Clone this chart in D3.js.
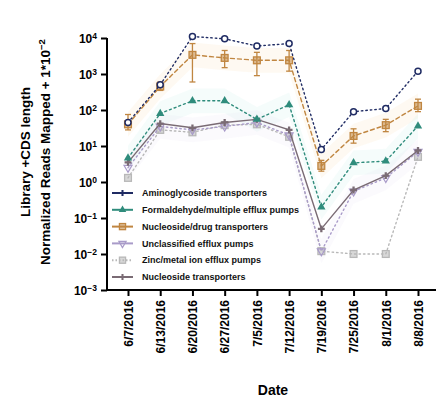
<!DOCTYPE html>
<html><head><meta charset="utf-8">
<script src="https://cdn.jsdelivr.net/npm/d3@7"></script>
<style>body{margin:0;background:#fff}svg{display:block}text{font-family:"Liberation Sans",Arial,sans-serif}</style>
</head><body><svg id="c" width="438" height="404"></svg>
<script>
const dates = ["6/7/2016","6/13/2016","6/20/2016","6/27/2016","7/5/2016","7/12/2016","7/19/2016","7/25/2016","8/1/2016","8/8/2016"];
const seriesNames = ["Aminoglycoside transporters","Formaldehyde/multiple efflux pumps","Nucleoside/drug transporters","Unclassified efflux pumps","Zinc/metal ion efflux pumps","Nucleoside transporters"];
const sAmino = [45, 500, 11000, 9500, 6000, 7000, 8, 90, 110, 1200];
const sForm  = [4.6, 80, 180, 180, 55, 140, 0.2, 3.4, 3.8, 36];
const sNucl  = [40, 450, 3400, 2800, 2400, 2400, 2.8, 19, 38, 130];
const sUncl  = [2.5, 35, 28, 35, 45, 20, 0.012, 0.55, 1.3, 7];
const sZinc  = [1.3, 28, 24, 38, 40, 18, 0.012, 0.01, 0.01, 5];
const sNuc2  = [3.5, 42, 32, 45, 55, 28, 0.05, 0.6, 1.5, 7.5];
const nuclLo = [28, 350, 600, 1500, 900, 1200, 2, 12, 25, 90];
const nuclHi = [75, 600, 7000, 4500, 4000, 4500, 4, 30, 55, 200];
const yTicks = [1e4,1e3,1e2,1e1,1e0,1e-1,1e-2,1e-3];

const colors = ["#1f2b63","#2f8c7c","#c08641","#a99bc9","#b8b8b8","#7a6b74"];
const dashes = ["1.5,3","2,3","4,3","1.5,3","1.5,3","none"];
const shapes = ["circle","triangle","square","triangleDown","square","cross"];
const allSeries = [sAmino, sForm, sNucl, sUncl, sZinc, sNuc2];

const svg = d3.select("#c");
const x = d3.scalePoint().domain(dates).range([128, 418]);
const y = d3.scaleLog().domain([1e-3, 1e4]).range([290, 38]);

// faint bands
const band = (arr, f) => d3.area().x((d,i)=>x(dates[i])).y0((d)=>y(d/f)).y1(d=>y(d*f)).curve(d3.curveLinear)(arr);
svg.append("path").attr("d", band(sNucl, 2.2)).attr("fill","#f6d9a8").attr("opacity",0.15);
svg.append("path").attr("d", band(sForm, 2.2)).attr("fill","#bfe8e6").attr("opacity",0.15);
svg.append("path").attr("d", band(sUncl, 2.2)).attr("fill","#e3dcf3").attr("opacity",0.15);

// axes
const yAxis = d3.axisLeft(y).tickValues(yTicks).tickSize(6).tickFormat("");
const gy = svg.append("g").attr("transform","translate(107,0)").call(yAxis);
gy.select(".domain").attr("stroke","#000").attr("stroke-width",2).attr("d","M0,38V291");
gy.selectAll(".tick line").attr("stroke","#000").attr("stroke-width",2);
gy.selectAll(".tick").each(function(d){
  const e = Math.round(Math.log10(d));
  const t = d3.select(this).append("text").attr("x",-10).attr("dy","0.38em").attr("text-anchor","end")
    .attr("fill","#000").attr("font-size",12).attr("font-weight","bold");
  t.append("tspan").text("10");
  t.append("tspan").attr("dy","-0.45em").attr("font-size",8.5).text(String(e).replace("-","\u2212"));
});
const xAxis = d3.axisBottom(x).tickSize(6).tickFormat("");
const gx = svg.append("g").attr("transform","translate(0,290)").call(xAxis);
gx.select(".domain").attr("stroke","#000").attr("stroke-width",2).attr("d","M106,0H436");
gx.selectAll(".tick line").attr("stroke","#000").attr("stroke-width",2);
gx.selectAll(".tick").append("text").attr("transform","rotate(-90)").attr("x",-10).attr("y",0).attr("dy","0.36em")
  .attr("text-anchor","end").attr("fill","#000").attr("font-size",12).attr("font-weight","bold").text(d=>d);

// titles
svg.append("text").attr("x",273).attr("y",395).attr("text-anchor","middle").attr("font-size",14).attr("font-weight","bold").text("Date");
svg.append("text").attr("transform","translate(30,152) rotate(-90)").attr("text-anchor","middle").attr("font-size",13.5).attr("font-weight","bold")
  .text("Library +CDS length");
const yt2 = svg.append("text").attr("transform","translate(50,152) rotate(-90)").attr("text-anchor","middle").attr("font-size",13.5).attr("font-weight","bold");
yt2.append("tspan").text("Normalized Reads Mapped + 1*10");
yt2.append("tspan").attr("dy","-0.5em").attr("font-size",9.5).text("\u22122");

function marker(g, shape, cx, cy, col, s){
  s = s || 1;
  if(shape==="circle") g.append("circle").attr("cx",cx).attr("cy",cy).attr("r",3*s).attr("fill","#fff").attr("stroke",col).attr("stroke-width",1.5);
  else if(shape==="square") g.append("rect").attr("x",cx-3.4*s).attr("y",cy-3.4*s).attr("width",6.8*s).attr("height",6.8*s).attr("fill",col).attr("fill-opacity",0.55).attr("stroke",col).attr("stroke-width",1.3);
  else if(shape==="triangle") g.append("path").attr("d",d3.symbol(d3.symbolTriangle, 30*s*s)()).attr("transform",`translate(${cx},${cy})`).attr("fill",col);
  else if(shape==="triangleDown") g.append("path").attr("d",d3.symbol(d3.symbolTriangle, 28*s*s)()).attr("transform",`translate(${cx},${cy}) rotate(180)`).attr("fill","none").attr("stroke",col).attr("stroke-width",1.2);
  else if(shape==="cross") g.append("path").attr("d",d3.symbol(d3.symbolCross, 26*s*s)()).attr("transform",`translate(${cx},${cy})`).attr("fill",col);
}

const line = d3.line().x((d,i)=>x(dates[i])).y(d=>y(d));
const order = [4,3,5,1,2,0];
order.forEach(k=>{
  const arr = allSeries[k];
  svg.append("path").attr("d", line(arr)).attr("fill","none").attr("stroke",colors[k]).attr("stroke-width",1.4)
    .attr("stroke-dasharray", dashes[k]==="none"?null:dashes[k]).attr("stroke-linecap","round");
  const g = svg.append("g");
  if(k===2){
    arr.forEach((v,i)=>{
      const cx = x(dates[i]);
      g.append("line").attr("x1",cx).attr("x2",cx).attr("y1",y(nuclLo[i])).attr("y2",y(nuclHi[i])).attr("stroke",colors[k]).attr("stroke-width",1.3);
      [nuclLo[i],nuclHi[i]].forEach(b=>g.append("line").attr("x1",cx-3).attr("x2",cx+3).attr("y1",y(b)).attr("y2",y(b)).attr("stroke",colors[k]).attr("stroke-width",1.3));
    });
  }
  arr.forEach((v,i)=>marker(g, shapes[k], x(dates[i]), y(v), colors[k]));
});

// legend
const lg = svg.append("g");
seriesNames.forEach((n,i)=>{
  const cy = 193 + i*16.8;
  lg.append("line").attr("x1",112).attr("x2",133).attr("y1",cy).attr("y2",cy).attr("stroke",colors[i]).attr("stroke-width",2)
    .attr("stroke-dasharray", i===4?"1.5,2":null);
  marker(lg, shapes[i]==="circle"?"cross":shapes[i], 122.5, cy, colors[i], 0.9);
  lg.append("text").attr("x",142).attr("y",cy).attr("dy","0.35em").attr("font-size",9).attr("font-weight","bold").attr("fill","#111").text(n);
});
</script></body></html>
